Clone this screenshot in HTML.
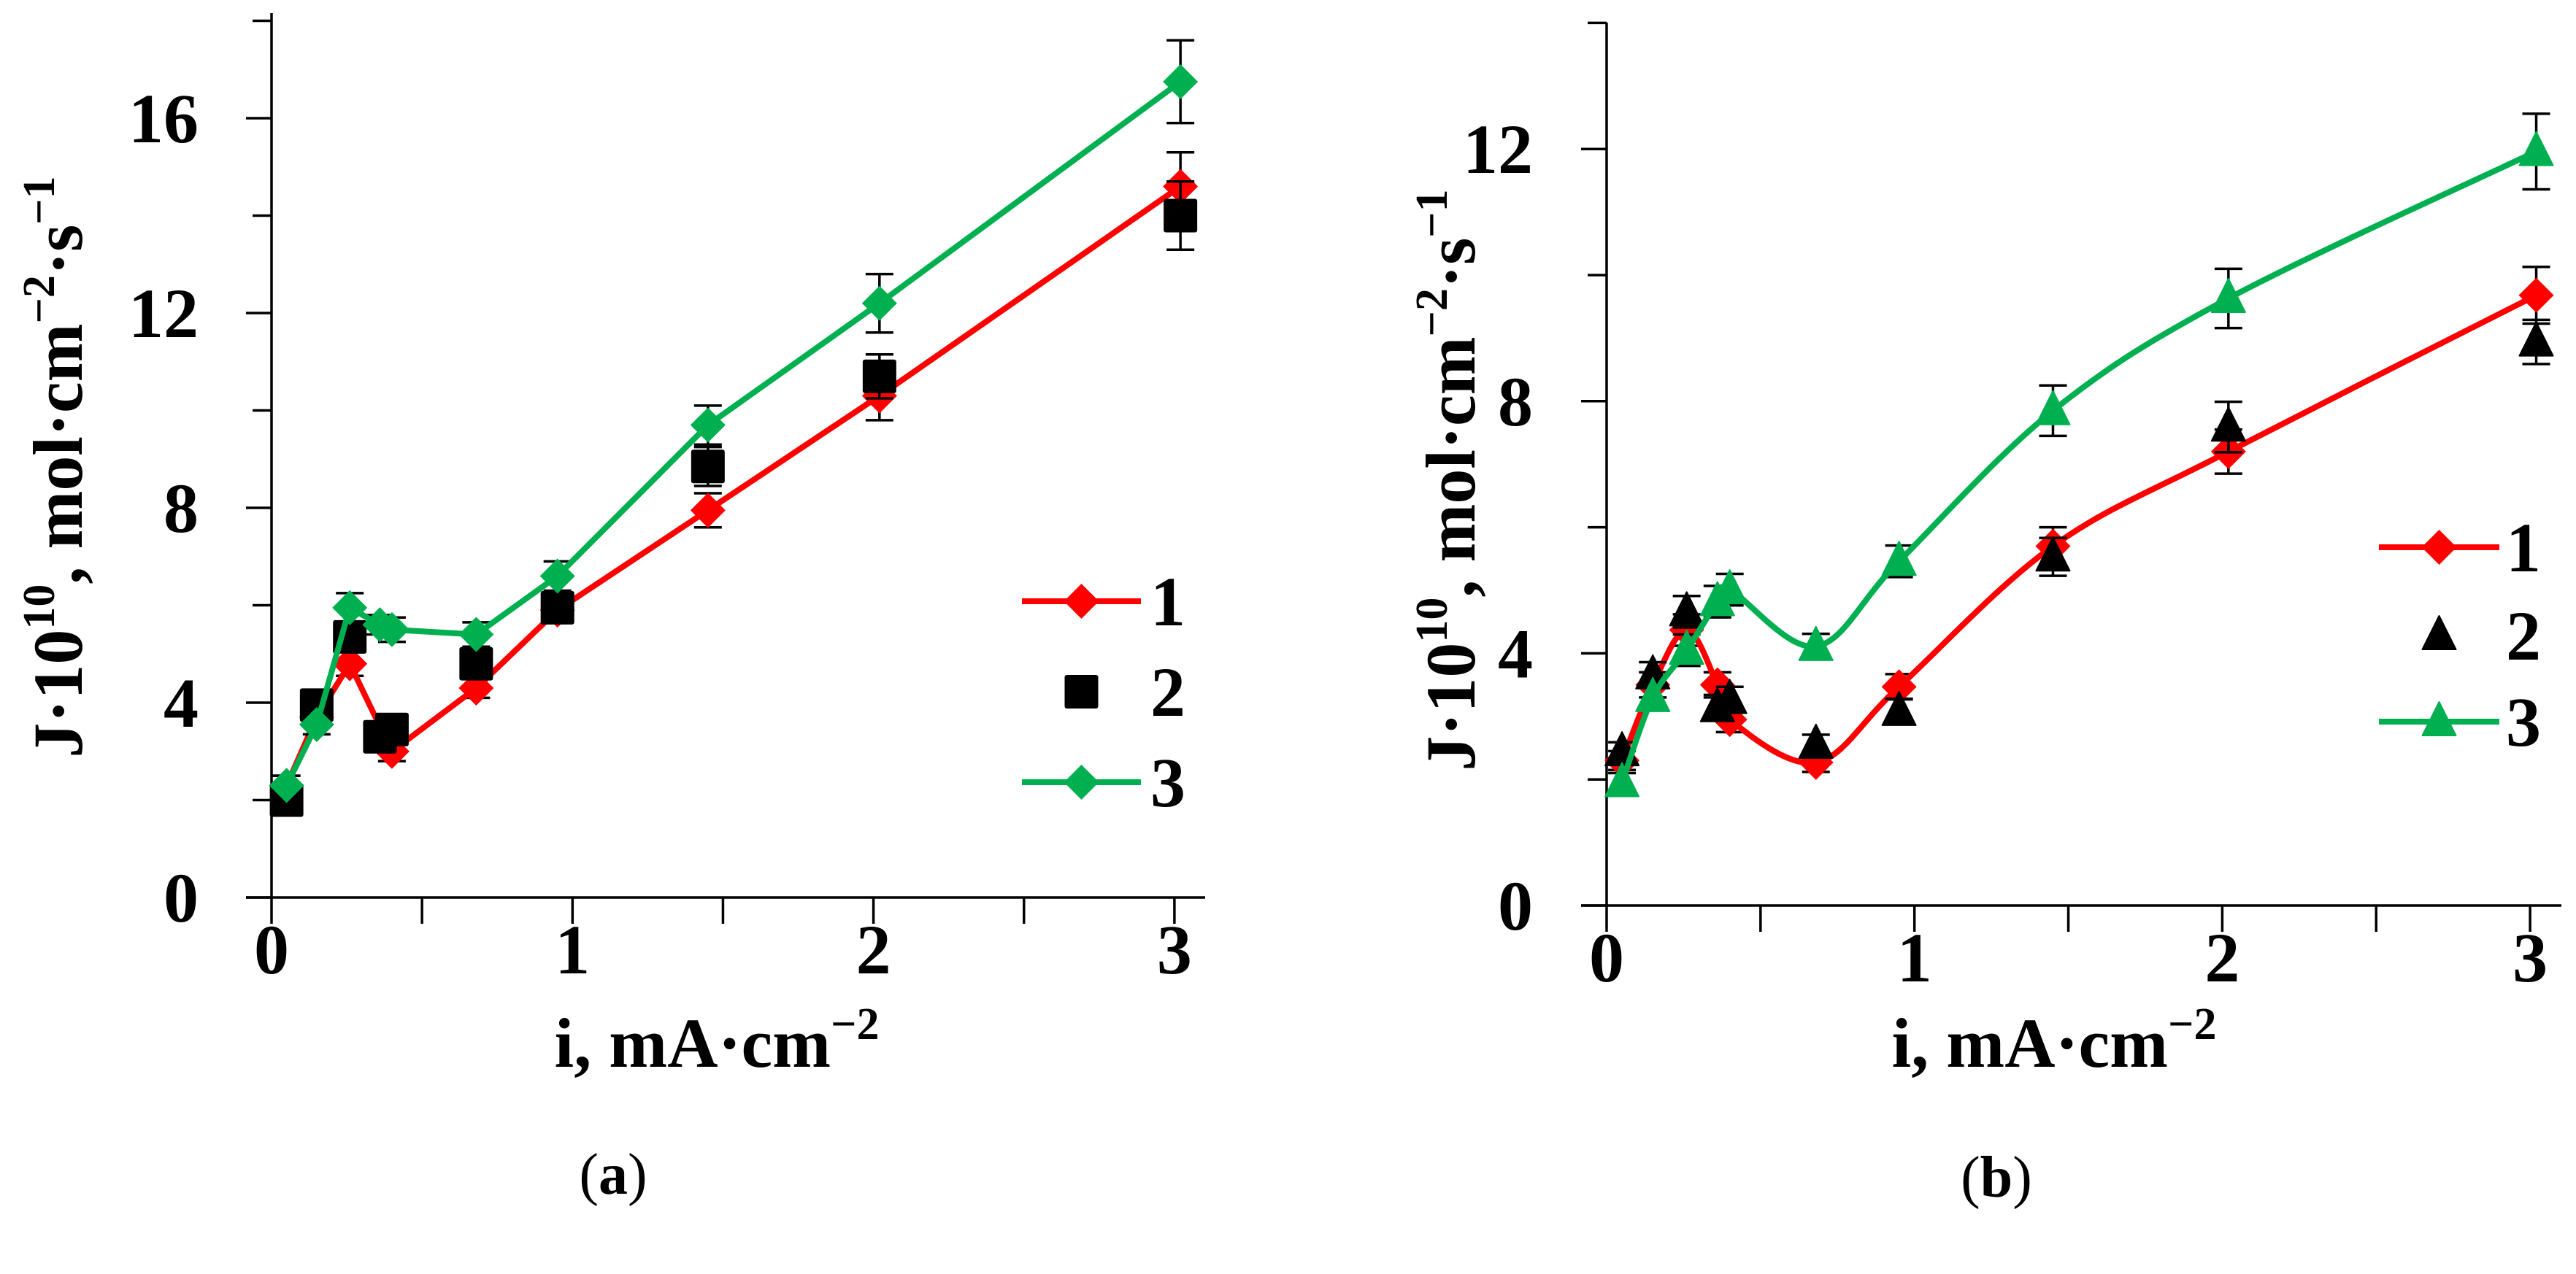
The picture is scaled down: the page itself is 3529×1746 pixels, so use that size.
<!DOCTYPE html>
<html><head><meta charset="utf-8"><style>
html,body{margin:0;padding:0;background:#fff;}
svg{display:block;}
text{font-family:"Liberation Serif",serif;fill:#000;}
</style></head><body>
<svg id="fig" width="3529" height="1746" viewBox="0 0 3529 1746" xmlns="http://www.w3.org/2000/svg"></svg>
<script>
const xVals = [0.05,0.15,0.26,0.36,0.40,0.68,0.95,1.45,2.02,3.02];
// panel a
const aS1 = [2.3,3.7,4.8,null,3.0,4.3,5.9,7.95,10.3,14.6];
const aS1err = [0.2,0.2,0.25,0,0.2,0.2,0.25,0.35,0.5,0.7];
const aS2 = [2.0,3.95,5.35,3.3,3.45,4.8,5.95,8.85,10.7,14.0];
const aS2err = [0,0.2,0.25,0.2,0.2,0.25,0.25,0.4,0.45,0.7];
const aS3 = [2.3,3.55,5.95,5.6,5.5,5.4,6.6,9.7,12.2,16.75];
const aS3err = [0.2,0.2,0.3,0.2,0.25,0.25,0.3,0.4,0.6,0.85];
const aYTicks = ["0","4","8","12","16"];
const aXTicks = ["0","1","2","3"];
// panel b
const bS1 = [2.3,3.5,4.37,3.5,2.95,2.27,3.47,5.7,7.2,9.68];
const bS1err = [0.15,0.2,0.25,0.2,0.2,0.15,0.2,0.3,0.35,0.45];
const bS2 = [2.44,3.66,4.66,3.14,3.27,2.56,3.08,5.53,7.59,8.94];
const bS2err = [0.15,0.2,0.25,0.2,0.2,0.15,0.2,0.3,0.4,0.35];
const bS3 = [1.95,3.3,4.05,4.82,5.01,4.11,5.46,7.85,9.63,11.96];
const bS3err = [0.15,0.2,0.25,0.25,0.25,0.2,0.25,0.4,0.47,0.6];
const bYTicks = ["0","4","8","12"];
const bXTicks = ["0","1","2","3"];

const NS="http://www.w3.org/2000/svg";
const svg=document.getElementById('fig');
function el(tag,attrs,parent){const e=document.createElementNS(NS,tag);for(const k in attrs)e.setAttribute(k,attrs[k]);(parent||svg).appendChild(e);return e;}
const RED="#ff0000",GREEN="#00b050";

function panel(cfg){
  const g=el('g',{});
  
  
  const X=v=>cfg.x0+v*cfg.xu, Y=v=>cfg.y0-v*cfg.yu;
  const ax=el('path',{d:`M${cfg.x0},${cfg.top} V${cfg.y0+36} M${cfg.x0-35},${cfg.y0} H${cfg.xEnd}`,stroke:'#000','stroke-width':3.5,fill:'none'},g);
  
  
  for(let v=0;v<=cfg.ymax;v+=2){const len=(v%4===0)?35:26;el('line',{x1:cfg.x0-len,x2:cfg.x0,y1:Y(v),y2:Y(v),stroke:'#000','stroke-width':3.5},g);}
  for(let v=0.5;v<=3.01;v+=0.5){el('line',{x1:X(v),x2:X(v),y1:cfg.y0,y2:cfg.y0+36,stroke:'#000','stroke-width':3.5},g);}
  cfg.yt.forEach(t=>{const e=el('text',{x:cfg.ylabX,y:Y(+t)+33,'text-anchor':'end','font-size':96,'font-weight':'bold'},g);e.textContent=t;
    
    });
  cfg.xt.forEach(t=>{const e=el('text',{x:X(+t),y:cfg.xlabY,'text-anchor':'middle','font-size':96,'font-weight':'bold'},g);e.textContent=t;
    
    });
  const xt=el('text',{x:cfg.xtX,y:cfg.xtY,'text-anchor':'middle','font-size':96,'font-weight':'bold'},g);
  xt.innerHTML='i, mA·cm<tspan dy="-38" font-size="62">−2</tspan>';
  
  
  const yt=el('text',{x:0,y:0,'text-anchor':'middle','font-size':96,'font-weight':'bold',transform:`translate(${cfg.ytX},${cfg.ytY}) rotate(-90)`},g);
  yt.innerHTML='J·10<tspan dy="-38" font-size="62">10</tspan><tspan dy="38">, mol·cm</tspan><tspan dy="-38" font-size="62">−2</tspan><tspan dy="38">·s</tspan><tspan dy="-38" font-size="62">−1</tspan>';
  
  
  const cap=el('text',{x:cfg.capX,y:cfg.capY,'text-anchor':'middle','font-size':80},g);
  cap.innerHTML='(<tspan font-weight="bold">'+cfg.cap+'</tspan>)';
  
  

  function pathFor(vals){
    const pts=[];vals.forEach((v,i)=>{if(v!==null)pts.push([X(xVals[i]),Y(v)]);});
    if(!cfg.smooth) return 'M'+pts.map(p=>p.join(',')).join(' L');
    let d='M'+pts[0].join(',');
    for(let i=0;i<pts.length-1;i++){
      const p0=pts[Math.max(0,i-1)],p1=pts[i],p2=pts[i+1],p3=pts[Math.min(pts.length-1,i+2)];
      const t=0.5/3;
      d+=` C${p1[0]+(p2[0]-p0[0])*t},${p1[1]+(p2[1]-p0[1])*t} ${p2[0]-(p3[0]-p1[0])*t},${p2[1]-(p3[1]-p1[1])*t} ${p2[0]},${p2[1]}`;
    }
    return d;
  }
  function marker(shape,cx,cy,color,parent){
    if(shape==='diamond') return el('path',{d:`M${cx},${cy-24} L${cx+24},${cy} L${cx},${cy+24} L${cx-24},${cy} Z`,fill:color},parent);
    if(shape==='square') return el('rect',{x:cx-23,y:cy-23,width:46,height:46,rx:3,fill:color},parent);
    return el('path',{d:`M${cx},${cy-27} L${cx+23},${cy+19} L${cx-23},${cy+19} Z`,fill:color,'stroke':color,'stroke-width':2,'stroke-linejoin':'round'},parent);
  }
  cfg.series.forEach(s=>{
    const sg=el('g',{},g);
    
    
    s.vals.forEach((v,i)=>{if(v===null||!s.err[i])return;const x=X(xVals[i]);
      el('path',{d:`M${x},${Y(v+s.err[i])} V${Y(v-s.err[i])} M${x-19},${Y(v+s.err[i])} h38 M${x-19},${Y(v-s.err[i])} h38`,stroke:'#000','stroke-width':3.5,fill:'none'},sg);});
    if(s.line){const p=el('path',{d:pathFor(s.vals),stroke:s.color,'stroke-width':8,fill:'none','stroke-linejoin':'round'},sg);
      
      }
    s.vals.forEach((v,i)=>{if(v===null)return;const m=marker(s.shape,X(xVals[i]),Y(v),s.color,sg);
      
      });
  });
  const lg=el('g',{},g);
  
  
  cfg.series.forEach((s,k)=>{
    const y=cfg.legY[k];
    const eg=el('g',{},lg);
    
    
    if(s.line) el('line',{x1:cfg.legX1,x2:cfg.legX2,y1:y,y2:y,stroke:s.color,'stroke-width':8},eg);
    marker(s.shape,(cfg.legX1+cfg.legX2)/2,y,s.color,eg);
    const t=el('text',{x:cfg.legTX,y:y+33,'text-anchor':'middle','font-size':96,'font-weight':'bold'},eg);t.textContent=String(k+1);
  });
}
panel({name:'panel-a',x0:372,y0:1230,xu:412.3,yu:66.75,top:18,xEnd:1651,ymax:18,yt:aYTicks,xt:aXTicks,
  ylabX:272,xlabY:1334,xtX:982,xtY:1462,ytX:112,ytY:640,capX:840,capY:1636,cap:'a',smooth:false,
  legX1:1400,legX2:1563,legY:[824,948,1072],legTX:1600,
  series:[{name:'series-1',vals:aS1,err:aS1err,color:RED,shape:'diamond',line:true},
          {name:'series-2',vals:aS2,err:aS2err,color:'#000',shape:'square',line:false},
          {name:'series-3',vals:aS3,err:aS3err,color:GREEN,shape:'diamond',line:true}]});
panel({name:'panel-b',x0:2201,y0:1241,xu:421.7,yu:86.4,top:31,xEnd:3509,ymax:14,yt:bYTicks,xt:bXTicks,
  ylabX:2100,xlabY:1345,xtX:2814,xtY:1462,ytX:2020,ytY:658,capX:2735,capY:1640,cap:'b',smooth:true,
  legX1:3259,legX2:3424,legY:[750,871,989],legTX:3457,
  series:[{name:'series-1',vals:bS1,err:bS1err,color:RED,shape:'diamond',line:true},
          {name:'series-2',vals:bS2,err:bS2err,color:'#000',shape:'triangle',line:false},
          {name:'series-3',vals:bS3,err:bS3err,color:GREEN,shape:'triangle',line:true}]});
</script>
</body></html>
